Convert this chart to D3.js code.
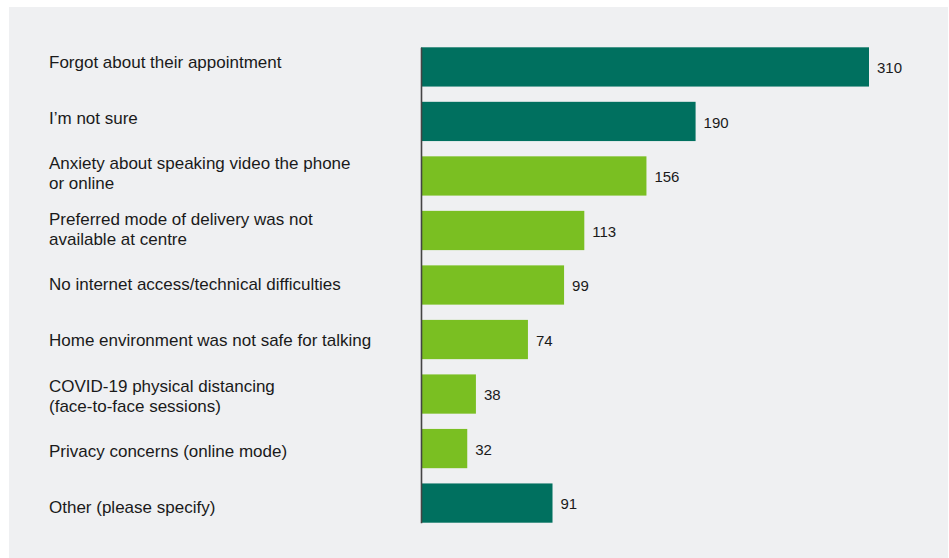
<!DOCTYPE html>
<html>
<head>
<meta charset="utf-8">
<script src="https://cdn.jsdelivr.net/npm/d3@7"></script>
<style>
  html, body { margin: 0; padding: 0; background: #ffffff; }
  svg { display: block; }
  text { font-family: "Liberation Sans", Arial, Helvetica, sans-serif; fill: #1a1a1a; }
</style>
</head>
<body>
<svg id="chart" width="949" height="558"></svg>
<script>
// Reasons given for missed sessions (number of responses)
const categories = [
  ["Forgot about their appointment"],
  ["I\u2019m not sure"],
  ["Anxiety about speaking video the phone", "or online"],
  ["Preferred mode of delivery was not", "available at centre"],
  ["No internet access/technical difficulties"],
  ["Home environment was not safe for talking"],
  ["COVID-19 physical distancing", "(face-to-face sessions)"],
  ["Privacy concerns (online mode)"],
  ["Other (please specify)"]
];
const values = [310, 190, 156, 113, 99, 74, 38, 32, 91];
const highlighted = [true, true, false, false, false, false, false, false, true];

const darkGreen = "#00705f";
const lightGreen = "#7abf22";

const svg = d3.select("#chart");
const W = 949, H = 558;

// light grey panel behind the chart
svg.append("rect")
  .attr("x", 9).attr("y", 7)
  .attr("width", W - 10).attr("height", H - 7)
  .attr("fill", "#eff0f2");

const idx = d3.range(values.length);

const x = d3.scaleLinear().domain([0, 310]).range([421, 869]);
const y = d3.scaleBand().domain(idx).range([47.3, 522.7]).paddingInner(0.28).paddingOuter(0);
// category labels sit on a slightly wider rhythm than the bars
const yLabel = d3.scalePoint().domain(idx).range([62, 507]);

// bars
svg.append("g").selectAll("rect")
  .data(idx)
  .join("rect")
  .attr("x", x(0))
  .attr("y", i => y(i))
  .attr("width", i => x(values[i]) - x(0))
  .attr("height", y.bandwidth())
  .attr("fill", i => highlighted[i] ? darkGreen : lightGreen);

// value labels
svg.append("g").selectAll("text")
  .data(idx)
  .join("text")
  .attr("x", i => x(values[i]) + 8)
  .attr("y", i => y(i) + y.bandwidth() / 2 + 1)
  .attr("dy", "0.35em")
  .attr("font-size", 15)
  .text(i => values[i]);

// category labels (one or two lines)
const lineH = 20;
const lab = svg.append("g").selectAll("text")
  .data(idx)
  .join("text")
  .attr("x", 49)
  .attr("font-size", 17);
lab.each(function(i) {
  const lines = categories[i];
  const c = yLabel(i);
  const start = c - (lines.length - 1) * lineH / 2;
  d3.select(this).selectAll("tspan")
    .data(lines)
    .join("tspan")
    .attr("x", 49)
    .attr("y", (d, k) => start + k * lineH)
    .attr("dy", "0.35em")
    .text(d => d);
});

// vertical baseline axis
const axis = d3.axisLeft(y).tickSize(0).tickSizeOuter(0).tickFormat("");
const ga = svg.append("g").attr("transform", `translate(${x(0)},0)`).call(axis);
ga.select(".domain").attr("stroke", "#444").attr("stroke-width", 1.6);
ga.selectAll(".tick").remove();
</script>
</body>
</html>
